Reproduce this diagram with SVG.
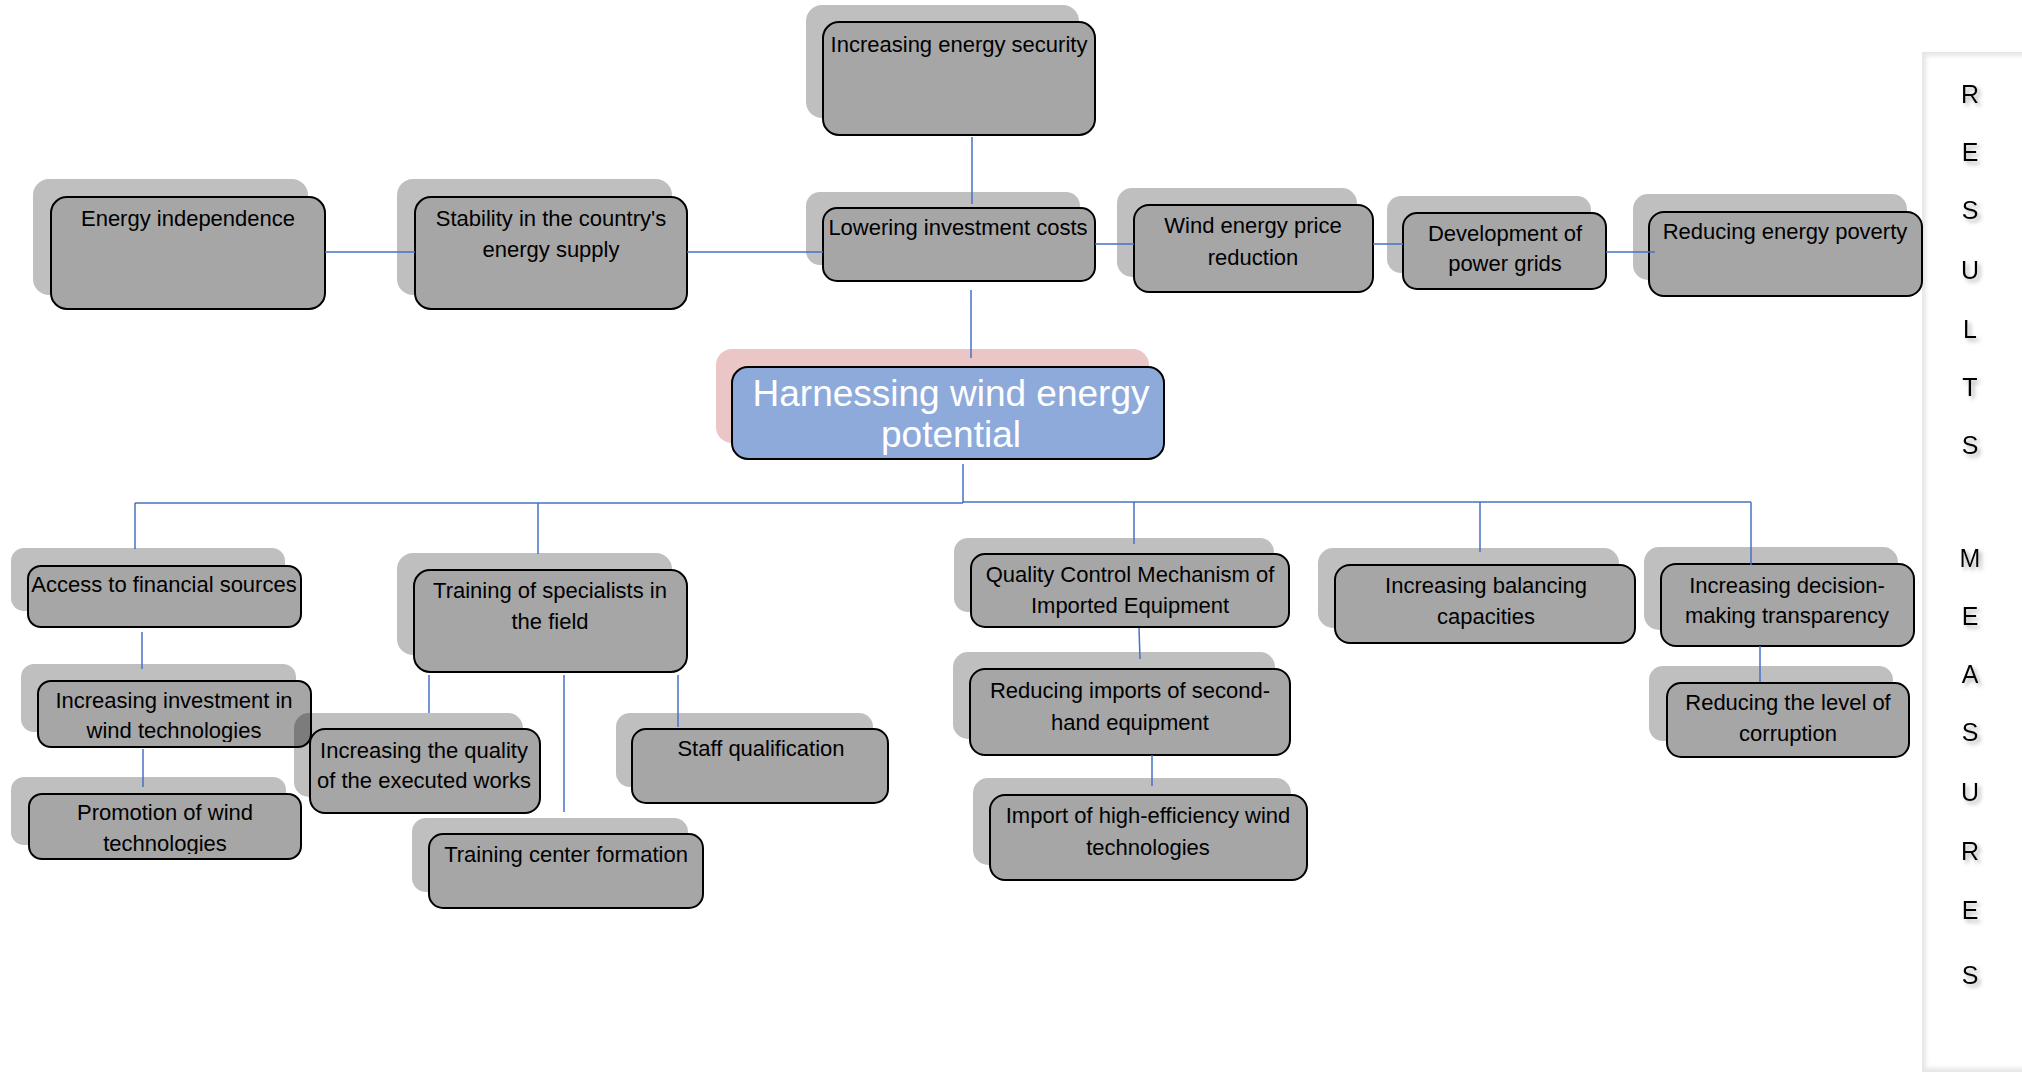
<svg xmlns="http://www.w3.org/2000/svg" width="2022" height="1073" viewBox="0 0 2022 1073">
<defs>
<style>
.sh{fill:#000;fill-opacity:0.25}
.bx{fill:#A6A6A6;stroke:#000;stroke-width:2}
.t{font-family:"Liberation Sans",Arial,sans-serif;font-size:22px;fill:#000;text-anchor:middle}
.ct{font-family:"Liberation Sans",Arial,sans-serif;font-size:37px;fill:#fff;text-anchor:middle}
.cn{stroke:#4472C4;stroke-width:1.5;fill:none}
.lt{font-family:"Liberation Sans",Arial,sans-serif;font-size:25px;fill:#000;text-anchor:middle}
</style>
<filter id="ds" x="-50%" y="-50%" width="200%" height="200%">
<feDropShadow dx="3" dy="3" stdDeviation="2" flood-color="#777" flood-opacity="0.6"/>
</filter>
<filter id="pb" x="-10%" y="-10%" width="120%" height="120%">
<feGaussianBlur stdDeviation="2"/>
</filter>
<clipPath id="c10"><rect x="38" y="681" width="273" height="61"/></clipPath>
<clipPath id="c11"><rect x="29" y="794" width="272" height="60"/></clipPath>
</defs>
<rect width="2022" height="1073" fill="#fff"/>

<g id="panel">
<rect x="1922" y="52" width="120" height="1020" fill="#e6e6e6"/>
<rect x="1926" y="56" width="120" height="1012" fill="#fff" filter="url(#pb)"/>
<g filter="url(#ds)">
<text class="lt" x="1970" y="103">R</text>
<text class="lt" x="1970" y="161">E</text>
<text class="lt" x="1970" y="219">S</text>
<text class="lt" x="1970" y="279">U</text>
<text class="lt" x="1970" y="338">L</text>
<text class="lt" x="1970" y="396">T</text>
<text class="lt" x="1970" y="454">S</text>
<text class="lt" x="1970" y="567">M</text>
<text class="lt" x="1970" y="625">E</text>
<text class="lt" x="1970" y="683">A</text>
<text class="lt" x="1970" y="741">S</text>
<text class="lt" x="1970" y="801">U</text>
<text class="lt" x="1970" y="860">R</text>
<text class="lt" x="1970" y="919">E</text>
<text class="lt" x="1970" y="984">S</text>
</g>
</g>

<g id="n1"><rect class="sh" x="33" y="179" width="275" height="116" rx="16"/><rect class="bx" x="51" y="197" width="274" height="112" rx="16"/><text class="t" x="188" y="226">Energy independence</text></g>
<g id="n2"><rect class="sh" x="397" y="179" width="275" height="116" rx="16"/><rect class="bx" x="415" y="197" width="272" height="112" rx="16"/><text class="t" x="551" y="226">Stability in the country's</text><text class="t" x="551" y="257">energy supply</text></g>
<g id="n3"><rect class="sh" x="806" y="5" width="273" height="113" rx="16"/><rect class="bx" x="823" y="22" width="272" height="113" rx="16"/><text class="t" x="959" y="52">Increasing energy security</text></g>
<g id="n4"><rect class="sh" x="806" y="192" width="274" height="73" rx="14"/><rect class="bx" x="823" y="208" width="272" height="73" rx="14"/><text class="t" x="958" y="235">Lowering investment costs</text></g>
<g id="n5"><rect class="sh" x="1117" y="188" width="240" height="89" rx="15"/><rect class="bx" x="1134" y="205" width="239" height="87" rx="15"/><text class="t" x="1253" y="233">Wind energy price</text><text class="t" x="1253" y="265">reduction</text></g>
<g id="n6"><rect class="sh" x="1387" y="196" width="204" height="77" rx="14"/><rect class="bx" x="1403" y="213" width="203" height="76" rx="14"/><text class="t" x="1505" y="241">Development of</text><text class="t" x="1505" y="271">power grids</text></g>
<g id="n7"><rect class="sh" x="1633" y="194" width="274" height="86" rx="15"/><rect class="bx" x="1649" y="212" width="273" height="84" rx="15"/><text class="t" x="1785" y="239">Reducing energy poverty</text></g>

<g id="center"><rect x="716" y="349" width="433" height="94" rx="16" fill="#EBC6C6"/><rect x="732" y="367" width="432" height="92" rx="16" fill="#8EAADB" stroke="#000" stroke-width="2"/><text class="ct" x="951" y="406">Harnessing wind energy</text><text class="ct" x="951" y="447">potential</text></g>

<g id="n8"><rect class="sh" x="11" y="548" width="274" height="63" rx="13"/><rect class="bx" x="28" y="566" width="273" height="61" rx="13"/><text class="t" x="164" y="592">Access to financial sources</text></g>
<g id="n9"><rect class="sh" x="397" y="553" width="275" height="102" rx="16"/><rect class="bx" x="414" y="570" width="273" height="102" rx="16"/><text class="t" x="550" y="598">Training of specialists in</text><text class="t" x="550" y="629">the field</text></g>
<g id="n10"><rect class="sh" x="21" y="664" width="275" height="68" rx="13"/><rect class="bx" x="38" y="681" width="273" height="66" rx="13"/><g clip-path="url(#c10)"><text class="t" x="174" y="708">Increasing investment in</text><text class="t" x="174" y="738">wind technologies</text></g></g>
<g id="n11"><rect class="sh" x="11" y="777" width="275" height="68" rx="13"/><rect class="bx" x="29" y="794" width="272" height="65" rx="13"/><g clip-path="url(#c11)"><text class="t" x="165" y="820">Promotion of wind</text><text class="t" x="165" y="851">technologies</text></g></g>
<g id="n12"><rect class="sh" x="294" y="713" width="229" height="84" rx="15"/><rect class="bx" x="310" y="729" width="230" height="84" rx="15"/><text class="t" x="424" y="758">Increasing the quality</text><text class="t" x="424" y="788">of the executed works</text></g>
<g id="n13"><rect class="sh" x="616" y="713" width="257" height="74" rx="14"/><rect class="bx" x="632" y="729" width="256" height="74" rx="14"/><text class="t" x="761" y="756">Staff qualification</text></g>
<g id="n14"><rect class="sh" x="412" y="818" width="276" height="74" rx="14"/><rect class="bx" x="429" y="834" width="274" height="74" rx="14"/><text class="t" x="566" y="862">Training center formation</text></g>
<g id="n15"><rect class="sh" x="954" y="538" width="320" height="74" rx="14"/><rect class="bx" x="971" y="554" width="318" height="73" rx="14"/><text class="t" x="1130" y="582">Quality Control Mechanism of</text><text class="t" x="1130" y="613">Imported Equipment</text></g>
<g id="n16"><rect class="sh" x="953" y="652" width="322" height="87" rx="15"/><rect class="bx" x="970" y="669" width="320" height="86" rx="15"/><text class="t" x="1130" y="698">Reducing imports of second-</text><text class="t" x="1130" y="730">hand equipment</text></g>
<g id="n17"><rect class="sh" x="973" y="778" width="318" height="87" rx="15"/><rect class="bx" x="990" y="795" width="317" height="85" rx="15"/><text class="t" x="1148" y="823">Import of high-efficiency wind</text><text class="t" x="1148" y="855">technologies</text></g>
<g id="n18"><rect class="sh" x="1318" y="548" width="301" height="80" rx="15"/><rect class="bx" x="1335" y="565" width="300" height="78" rx="15"/><text class="t" x="1486" y="593">Increasing balancing</text><text class="t" x="1486" y="624">capacities</text></g>
<g id="n19"><rect class="sh" x="1644" y="547" width="254" height="83" rx="15"/><rect class="bx" x="1661" y="564" width="253" height="82" rx="15"/><text class="t" x="1787" y="593">Increasing decision-</text><text class="t" x="1787" y="623">making transparency</text></g>
<g id="n20"><rect class="sh" x="1649" y="666" width="244" height="75" rx="14"/><rect class="bx" x="1667" y="683" width="242" height="74" rx="14"/><text class="t" x="1788" y="710">Reducing the level of</text><text class="t" x="1788" y="741">corruption</text></g>

<g id="connectors">
<path class="cn" d="M325 252H415"/>
<path class="cn" d="M687 252H823"/>
<path class="cn" d="M972 137V204"/>
<path class="cn" d="M1095 244H1134"/>
<path class="cn" d="M1373 244H1403"/>
<path class="cn" d="M1606 252H1655"/>
<path class="cn" d="M971 290V358"/>
<path class="cn" d="M963 464V503"/>
<path class="cn" d="M135 503H963"/>
<path class="cn" d="M963 502H1751"/>
<path class="cn" d="M135 503V549"/>
<path class="cn" d="M538 503V554"/>
<path class="cn" d="M1134 502V544"/>
<path class="cn" d="M1480 502V552"/>
<path class="cn" d="M1751 502V565"/>
<path class="cn" d="M142 632V669"/>
<path class="cn" d="M143 749V787"/>
<path class="cn" d="M429 675V713"/>
<path class="cn" d="M564 675V812"/>
<path class="cn" d="M678 675V727"/>
<path class="cn" d="M1139 628L1140 659"/>
<path class="cn" d="M1152 755V786"/>
<path class="cn" d="M1760 646V682"/>
</g>
</svg>
